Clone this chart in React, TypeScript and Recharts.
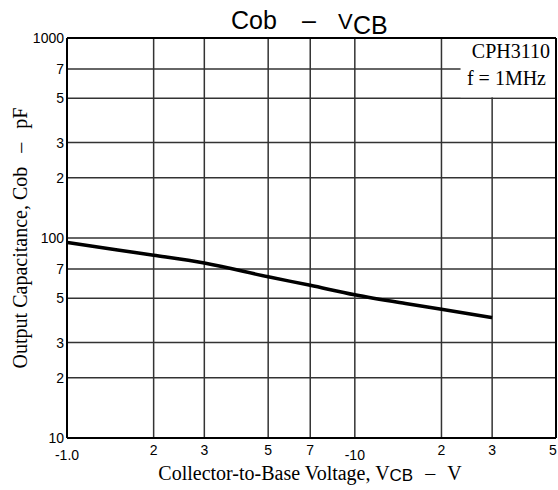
import React from "react";
import {
  LineChart,
  Line,
  XAxis,
  YAxis,
  CartesianGrid,
  ReferenceLine,
  ReferenceArea
} from "recharts";

// Cob vs VCB
const vcb = [1, 1.5, 2, 3, 5, 7, 10, 15, 20, 30];
const cob = [95, 87, 82, 75, 64, 58, 52, 47, 44, 40];

const xTicks = [1, 2, 3, 5, 7, 10, 20, 30, 50];
const xTickLabels = ["-1.0", "2", "3", "5", "7", "-10", "2", "3", "5"];
const yTicks = [10, 20, 30, 50, 70, 100, 200, 300, 500, 700, 1000];
const yTickLabels = ["10", "2", "3", "5", "7", "100", "2", "3", "5", "7", "1000"];

const data = vcb.map((v, i) => ({ v, c: cob[i] }));

const sans = "'Liberation Sans', Arial, sans-serif";
const serif = "'Liberation Serif', 'Times New Roman', serif";

function XTick(props: any) {
  const { x, y, payload } = props;
  const i = xTicks.indexOf(payload.value);
  const label = xTickLabels[i];
  const low = label.startsWith("-");
  const last = i === xTicks.length - 1;
  return (
    <text
      x={last ? x - 3 : x}
      y={y}
      dy={low ? 22 : 17}
      textAnchor="middle"
      fontFamily={sans}
      fontSize={14}
      fill="#000"
    >
      {label}
    </text>
  );
}

function YTick(props: any) {
  const { x, y, payload } = props;
  const i = yTicks.indexOf(payload.value);
  return (
    <text
      x={x - 3}
      y={y}
      dy={5}
      textAnchor="end"
      fontFamily={sans}
      fontSize={14}
      fill="#000"
    >
      {yTickLabels[i]}
    </text>
  );
}

export default function App() {
  return (
    <div style={{ position: "absolute", left: 0, top: 0, width: 558, height: 490, background: "#fff" }}>
      <LineChart
        width={558}
        height={490}
        data={data}
        margin={{ top: 38, right: 2, bottom: 0, left: 0 }}
      >
        <CartesianGrid stroke="#333" strokeWidth={1.5} />
        <XAxis
          type="number"
          dataKey="v"
          scale="log"
          domain={[1, 50]}
          ticks={xTicks}
          allowDataOverflow
          height={52}
          tickLine={false}
          tickSize={0}
          tickMargin={0}
          axisLine={{ stroke: "#000", strokeWidth: 2 }}
          tick={<XTick />}
          interval={0}
        />
        <YAxis
          type="number"
          dataKey="c"
          scale="log"
          domain={[10, 1000]}
          ticks={yTicks}
          allowDataOverflow
          width={67}
          tickLine={false}
          tickSize={0}
          tickMargin={0}
          axisLine={{ stroke: "#000", strokeWidth: 2 }}
          tick={<YTick />}
          interval={0}
        />
        {/* white box behind the part-number note */}
        <ReferenceArea
          x1={23.3}
          x2={50}
          y1={505}
          y2={1000}
          fill="#fff"
          fillOpacity={1}
          stroke="none"
          ifOverflow="hidden"
        />
        <ReferenceLine y={1000} stroke="#000" strokeWidth={2} />
        <ReferenceLine x={50} stroke="#000" strokeWidth={2} />
        <Line
          type="monotone"
          dataKey="c"
          stroke="#000"
          strokeWidth={3.5}
          dot={false}
          isAnimationActive={false}
        />
      </LineChart>
      <svg
        width={558}
        height={490}
        style={{ position: "absolute", left: 0, top: 0, pointerEvents: "none" }}
      >
        <text y={29} fontFamily={sans} fontSize={25} fill="#000">
          <tspan x={231}>Cob</tspan>
          <tspan x={302}>–</tspan>
          <tspan x={338} fontSize={22}>V</tspan>
          <tspan x={353} dy={5}>CB</tspan>
        </text>
        <text x={550} y={58} textAnchor="end" fontFamily={serif} fontSize={20} fill="#000">
          CPH3110
        </text>
        <text x={546} y={85} textAnchor="end" fontFamily={serif} fontSize={20} fill="#000">
          f = 1MHz
        </text>
        <text
          x={310}
          y={480}
          textAnchor="middle"
          fontFamily={serif}
          fontSize={20}
          fill="#000"
        >
          Collector-to-Base Voltage, V
          <tspan fontFamily={sans} fontSize={17} dy={1}>CB</tspan>
          <tspan dx={12} dy={-1}>–</tspan>
          <tspan dx={12}>V</tspan>
        </text>
        <text
          transform="translate(27,238) rotate(-90)"
          textAnchor="middle"
          fontFamily={serif}
          fontSize={20}
          fill="#000"
        >
          Output Capacitance, Cob
          <tspan dx={14}>–</tspan>
          <tspan dx={14}>pF</tspan>
        </text>
      </svg>
    </div>
  );
}
